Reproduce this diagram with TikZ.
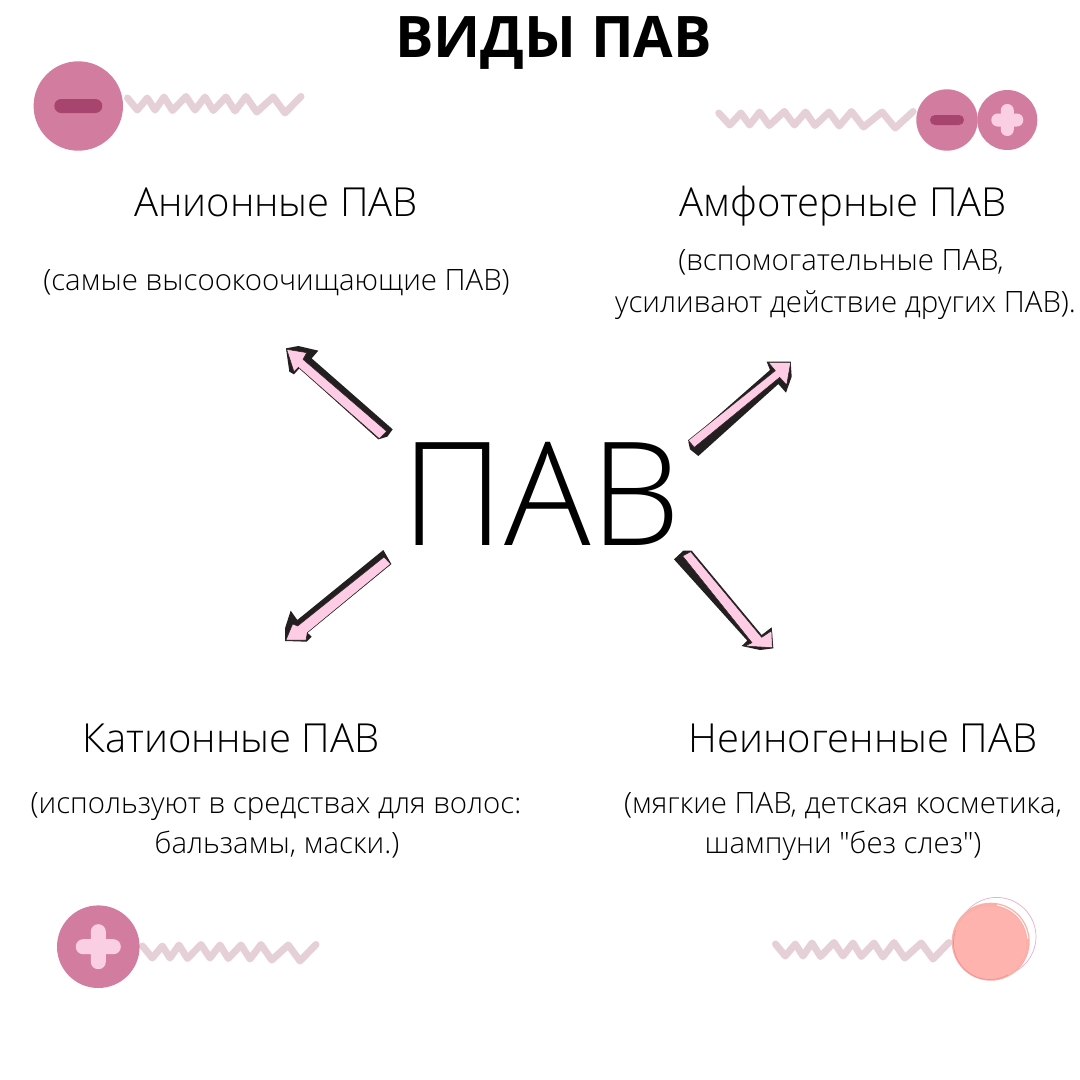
\documentclass[tikz,border=0pt]{standalone}
\usepackage{fontspec}
\setmainfont{Open Sans Light}
\newfontfamily\titlefont{Open Sans}[UprightFont={*},BoldFont={* Bold}]
\newfontfamily\plainq{Open Sans Light}
\definecolor{ballpink}{HTML}{D27DA0}
\definecolor{darkmark}{HTML}{A8456F}
\definecolor{lightmark}{HTML}{FBCFE3}
\definecolor{tailcol}{HTML}{E6D0D8}
\definecolor{arrowpink}{HTML}{FFCCE5}
\definecolor{arrowdark}{HTML}{231F20}
\definecolor{salmon}{HTML}{FFB3AE}
\definecolor{salmondark}{HTML}{FAAFA9}
\definecolor{salmonline}{HTML}{EE8F8B}
\tikzset{
  x=1pt,y=-1pt,
  heading/.style={anchor=base,inner sep=0pt,font=\fontsize{40}{40}\selectfont},
  note/.style={anchor=base,inner sep=0pt,font=\fontsize{29.4}{29.4}\selectfont},
  ball/.style={fill=ballpink,draw=none},
  tail/.style={draw=tailcol,line width=7pt,line join=round,line cap=round},
  arrowback/.style={fill=arrowdark,draw=none,line join=round},
  arrowface/.style={fill=arrowpink,draw=arrowdark,line width=.5pt,line join=miter},
  markdark/.style={fill=darkmark,draw=none},
  marklight/.style={fill=lightmark,draw=none},
}
\newcommand{\tailpath}{(127.5,98) -- (137.3,110) -- (147.3,98) -- (155,110) -- (164,97) -- (172.5,110.5) -- (186,96.5) -- (195,110) -- (205,97) -- (213.3,110.5) -- (226,97) -- (235,111) -- (246,96.5) -- (256.7,112) -- (273.3,97) -- (285,113) -- (301,96.5)}
\newcommand{\minusmark}[5]{\fill[#5,rounded corners=#4*0.49pt] (#1-#3/2,#2-#4/2) rectangle (#1+#3/2,#2+#4/2);}
\newcommand{\plusmark}[5]{\fill[#5,rounded corners=#4*0.49pt] (#1-#3/2,#2-#4/2) rectangle (#1+#3/2,#2+#4/2);
  \fill[#5,rounded corners=#4*0.49pt] (#1-#4/2,#2-#3/2) rectangle (#1+#4/2,#2+#3/2);}
\begin{document}
\begin{tikzpicture}
\useasboundingbox (0,0) rectangle (1080,1080);
\fill[white] (0,0) rectangle (1080,1080);

% title
\node[anchor=base,inner sep=0pt,font=\titlefont\bfseries\fontsize{57.3}{57.3}\selectfont] (title) at (553.5,57) {ВИДЫ ПАВ};
\node[anchor=base,inner sep=0pt,font=\fontsize{144}{144}\selectfont] (center) at (541,545) {ПАВ};

% tails
\draw[tail] \tailpath;
\draw[tail,shift={(15,848)}] \tailpath;
\draw[tail,shift={(648,846)}] \tailpath;
\begin{scope}[shift={(576,15)},xscale=1.12]
\draw[tail] \tailpath;
\end{scope}

% balls
\fill[ball] (78.3,106) circle (44.7);
\minusmark{78.3}{106}{48}{14}{markdark}
\fill[ball] (947,120) circle (30.7);
\minusmark{947}{120}{34}{10}{markdark}
\fill[ball] (1007.3,120) circle (30);
\plusmark{1007.3}{120}{32}{13}{marklight}
\fill[ball] (98.3,946.7) circle (41.3);
\plusmark{98.3}{946.7}{45}{15}{marklight}

% neutral head
\draw[draw=ballpink!60,line width=.7pt] (996.7,936.7) circle (39.3);
\fill[salmondark] (990.7,941.7) circle (39);
\draw[white,line width=1pt] (990.5,942) ++(-80:37.5) arc (-80:-5:37.5);
\fill[salmon] (990,943) circle (36.5);
\draw[draw=salmonline,line width=.6pt] (990,943) ++(200:36.5) arc (200:60:36.5);

% arrows
\begin{scope}[shift={(270,330)},scale=1/3]
\fill[arrowback] (48,55) -- (85,48) -- (145,62) -- (125,85) -- (368,298) -- (352,320) -- (325,328) -- (88,115) -- (72,133) -- (58,125) -- cycle;
\draw[arrowface] (50,58) -- (110,68) -- (99,88) -- (350,304) -- (328,326) -- (85,112) -- (72,125) -- cycle;
\end{scope}
\begin{scope}[shift={(670,350)},scale=1/3]
\fill[arrowback] (290,35) -- (362,35) -- (365,80) -- (348,128) -- (325,102) -- (85,318) -- (60,298) -- (55,275) -- (300,60) -- cycle;
\draw[arrowface] (362,37) -- (295,37) -- (316,62) -- (55,271) -- (73,292) -- (329,82) -- (350,105) -- cycle;
\end{scope}
\begin{scope}[shift={(270,540)},scale=1/3]
\fill[arrowback] (340,30) -- (364,72) -- (112,278) -- (125,290) -- (110,305) -- (45,303) -- (45,265) -- (62,212) -- (82,240) -- cycle;
\draw[arrowface] (48,300) -- (68,252) -- (83,258) -- (342,51) -- (362,72) -- (112,278) -- (108,300) -- cycle;
\end{scope}
\begin{scope}[shift={(660,540)},scale=1/3]
\fill[arrowback] (42,58) -- (70,32) -- (95,32) -- (305,285) -- (335,262) -- (340,325) -- (300,330) -- (245,318) -- (262,302) -- cycle;
\draw[arrowface] (337,323) -- (335,272) -- (305,292) -- (92,35) -- (68,48) -- (276,308) -- (255,318) -- cycle;
\end{scope}

% labels
\node[heading] (an) at (276,216) {Анионные ПАВ};
\node[note] (annote) at (276.5,290) {(самые высоокоочищающие ПАВ)};
\node[heading] (am) at (843,216) {Амфотерные ПАВ};
\node[note] (amnote1) at (841,270) {(вспомогательные ПАВ,};
\node[note] (amnote2) at (845.5,312) {усиливают действие других ПАВ).};
\node[heading] (kat) at (231,752) {Катионные ПАВ};
\node[note] (katnote1) at (276,813) {(используют в средствах для волос:};
\node[note] (katnote2) at (277,853) {бальзамы, маски.)};
\node[heading] (non) at (863,752) {Неиногенные ПАВ};
\node[note] (nonnote1) at (843,813) {(мягкие ПАВ, детская косметика,};
\node[note] (nonnote2) at (843,853) {шампуни {\plainq"}без слез{\plainq"})};
\end{tikzpicture}
\end{document}
